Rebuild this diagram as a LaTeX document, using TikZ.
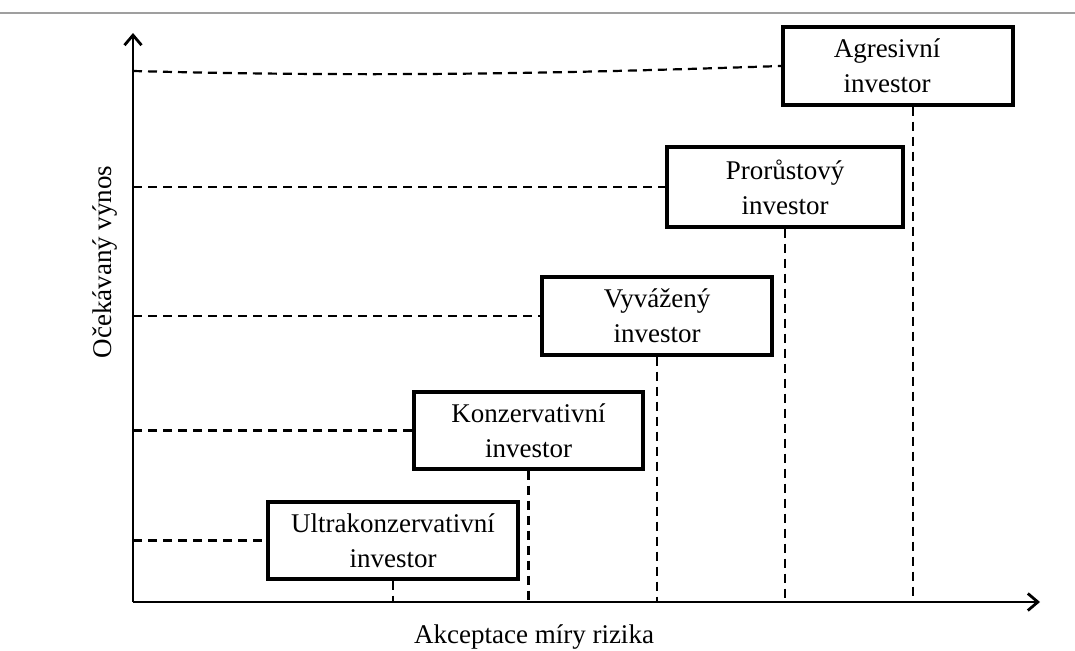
\documentclass[tikz,border=0pt]{standalone}
\usepackage{fontspec}
\setmainfont{Liberation Serif}
\usetikzlibrary{arrows.meta}
\begin{document}
\begin{tikzpicture}[x=1pt,y=-1pt,
  invbox/.style={draw, line width=3.4pt, align=center, inner sep=0pt,
    font=\fontsize{27}{35}\selectfont},
  axisline/.style={line width=2.8pt, -{Straight Barb[length=10pt,width=17pt,line width=2.8pt]}},
  dashline/.style={line width=2.2pt, dash pattern=on 9pt off 6pt},
  lbl/.style={font=\fontsize{27}{32}\selectfont, inner sep=0pt}]
\useasboundingbox (0,0) rectangle (1075,650);
\fill[white] (0,0) rectangle (1075,650);
% top rule
\draw[gray!75, line width=1.8pt] (0,13) -- (1075,13);
% axes
\coordinate (O) at (133,602);
\coordinate (Xend) at (1040,602);
\coordinate (Yend) at (133,33);
\draw[axisline] (O) -- (Xend);
\draw[axisline] (O) -- (Yend);
% boxes
\node[invbox, minimum width=250pt, minimum height=77pt] (u) at (393,540.5) {Ultrakonzervativní\\investor};
\node[invbox, minimum width=229pt, minimum height=77pt] (k) at (528.5,430.5) {Konzervativní\\investor};
\node[invbox, minimum width=230pt, minimum height=78pt] (v) at (657,316) {Vyvážený\\investor};
\node[invbox, minimum width=236pt, minimum height=80pt] (p) at (785,187) {Prorůstový\\investor};
\node[invbox, minimum width=230pt, minimum height=78pt] (a) at (898,66) {\hspace*{-22pt}Agresivní\\\hspace*{-22pt}investor};
% horizontal dashed
\draw[dashline] (O |- u.west) -- (u.west);
\draw[dashline] (O |- k.west) -- (k.west);
\draw[dashline] (O |- v.west) -- (v.west);
\draw[dashline] (O |- p.west) -- (p.west);
\draw[dashline] (133,71) .. controls (400,78) and (600,72) .. (a.west);
% vertical dashed
\draw[dashline] (u.south) -- (u.south |- O);
\draw[dashline] (k.south) -- (k.south |- O);
\draw[dashline] (v.south) -- (v.south |- O);
\draw[dashline] (p.south) -- (p.south |- O);
\path (a.south) ++(15,0) coordinate (as);
\draw[dashline] (as) -- (as |- O);
% axis labels
\node[lbl] (xl) at (534,637) {Akceptace míry rizika};
\node[lbl, rotate=90] (yl) at (105,262) {Očekávaný výnos};
\end{tikzpicture}
\end{document}
